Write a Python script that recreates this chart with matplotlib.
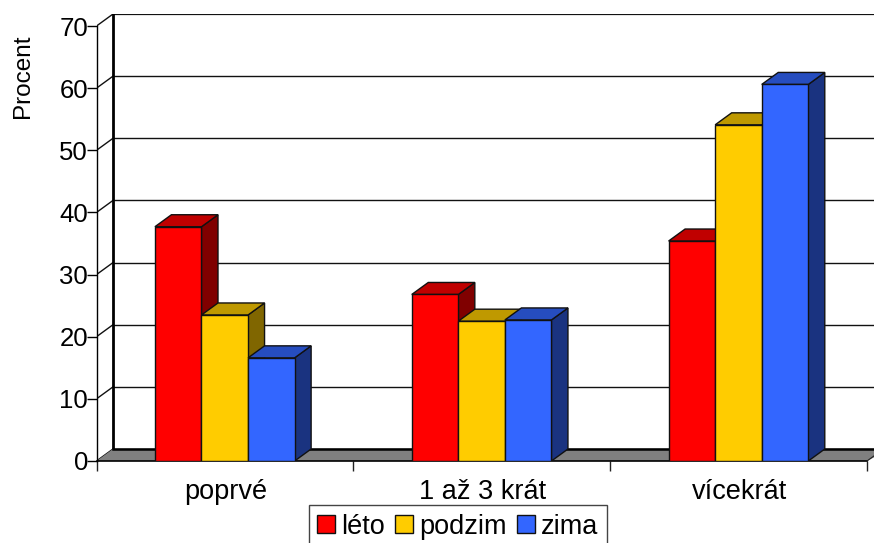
import matplotlib
matplotlib.use("Agg")
import matplotlib.pyplot as plt
from matplotlib.patches import Polygon, Patch

plt.rcParams['font.family'] = ['Liberation Sans', 'DejaVu Sans']

categories = ["poprvé", "1 až 3 krát", "vícekrát"]
series_names = ["léto", "podzim", "zima"]
leto = [37.7, 26.8, 35.4]
podzim = [23.5, 22.5, 54.1]
zima = [16.6, 22.7, 60.6]
series_values = [leto, podzim, zima]
front_colors = ["#FF0000", "#FFCC00", "#3366FF"]
top_colors = ["#C00000", "#BF9900", "#264DBF"]
side_colors = ["#800000", "#806600", "#1A3380"]
y_ticks = [0, 10, 20, 30, 40, 50, 60, 70]

W, H = 874, 543
fig = plt.figure(figsize=(W / 100, H / 100), dpi=100)
x0_px, x3_px, y0_px, ytop_px = 96.5, 867.0, 461.0, 14.0
ax = fig.add_axes([x0_px / W, 1 - y0_px / H, (W - x0_px) / W, (y0_px - ytop_px) / H])
cat_px = (x3_px - x0_px) / 3
val_px = 6.214
dx = 16.5 / cat_px
dy = 12 / val_px
xmax = (W - x0_px) / cat_px
ax.set_xlim(0, xmax)
ax.set_ylim(0, (y0_px - ytop_px) / val_px)

for s in ['top', 'right', 'bottom']:
    ax.spines[s].set_visible(False)
ax.spines['left'].set_bounds(0, 70)
ax.spines['left'].set_linewidth(1.0)
ax.set_yticks(y_ticks)
ax.set_xticks([0, 1, 2, 3])
ax.set_xticklabels([])
ax.set_xticks([0.5 + i + 0.004 for i in range(3)], minor=True)
ax.set_xticklabels(categories, minor=True, fontsize=19.5)
ax.tick_params(axis='x', which='minor', length=0, pad=13)
ax.tick_params(axis='x', which='major', length=7, width=1, color='#222222')
ax.tick_params(axis='y', length=7, width=1, labelsize=18.5, pad=-1)
ax.set_ylabel("Procent", fontsize=17.5)
ax.yaxis.set_label_coords(-0.081, 0.86)

# back wall grid, side wall diagonals
for v in y_ticks:
    lw = 1.6 if v == 70 else 1.0
    ax.plot([dx, xmax], [v + dy, v + dy], color='#111111', lw=lw, zorder=1, solid_capstyle='butt')
    ax.plot([0, dx], [v, v + dy], color='#111111', lw=1.0, zorder=1)
ax.plot([dx, dx], [dy, 70 + dy], color='black', lw=2.0, zorder=1.5)
# floor
ax.add_patch(Polygon([(0, 0), (dx, dy), (xmax + dx, dy), (3, 0)], closed=True,
                     facecolor='#808080', edgecolor='none', zorder=2))
ax.plot([dx, xmax], [dy, dy], color='black', lw=1.8, zorder=2.1)
ax.plot([0, 3], [0, 0], color='black', lw=1.2, zorder=2.1, clip_on=False)
ax.plot([3, xmax], [0, dy * (xmax - 3) / dx], color='#222222', lw=0.8, zorder=2.1)

# bars
bar_w = 0.1813
start = 0.2275
z = 3
for c in range(3):
    for s in range(3):
        v = series_values[s][c]
        x = c + start + s * bar_w
        ax.add_patch(Polygon([(x + bar_w, 0), (x + bar_w + dx, dy), (x + bar_w + dx, v + dy), (x + bar_w, v)],
                             closed=True, facecolor=side_colors[s], edgecolor='#111111', lw=1.0, zorder=z))
        ax.add_patch(Polygon([(x, v), (x + dx, v + dy), (x + bar_w + dx, v + dy), (x + bar_w, v)],
                             closed=True, facecolor=top_colors[s], edgecolor='#111111', lw=1.0, zorder=z))
        ax.bar(x, v, width=bar_w, align='edge', color=front_colors[s], edgecolor='#111111', lw=1.0, zorder=z + 0.5)
        z += 1

handles = [Patch(facecolor=front_colors[i], edgecolor='#111111', lw=1.0) for i in range(3)]
fig.legend(handles, series_names, loc='upper left', bbox_to_anchor=(308.5 / W, 1 - 505 / H),
           ncol=3, fontsize=19.5, frameon=True, fancybox=False, edgecolor='#444444', framealpha=1,
           borderaxespad=0, borderpad=0.32, handlelength=0.64, handleheight=0.64,
           handletextpad=0.25, columnspacing=0.38, labelspacing=0)
fig.savefig("out.png", dpi=100)
